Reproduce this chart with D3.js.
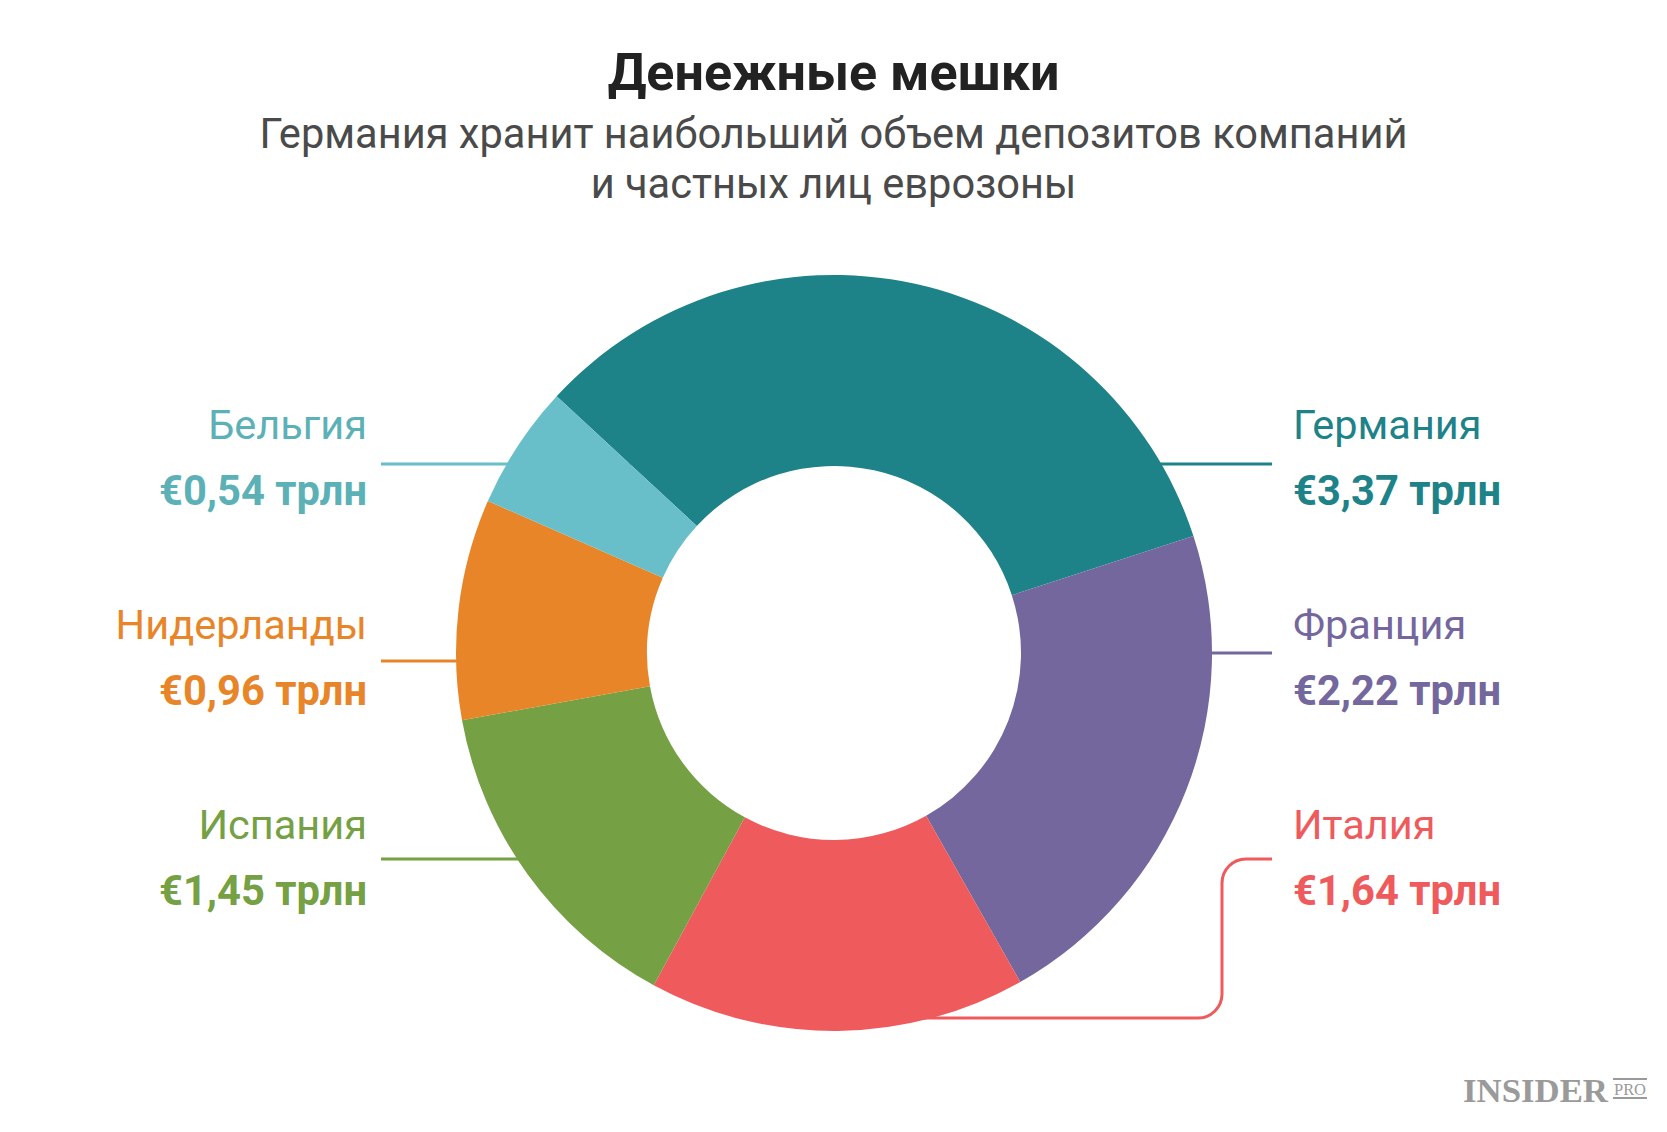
<!DOCTYPE html>
<html>
<head>
<meta charset="utf-8">
<script src="https://cdnjs.cloudflare.com/ajax/libs/d3/7.8.5/d3.min.js"></script>
<style>
  html, body { margin: 0; padding: 0; background: #fff; }
  svg { display: block; font-family: Roboto, "Noto Sans", sans-serif; }
</style>
</head>
<body>
<div id="chart"></div>
<script>
// data, clockwise from the top-left
var countries = ["Германия", "Франция", "Италия", "Испания", "Нидерланды", "Бельгия"];
var deposits = [3.37, 2.22, 1.64, 1.45, 0.96, 0.54]; // трлн евро
var colors = ["#1e8289", "#74679e", "#ef5a5c", "#75a044", "#e88528", "#69bfc9"];
var textColors = ["#1e8289", "#74679e", "#ef5a5c", "#75a044", "#e88528", "#5cb1b7"];

var title = "Денежные мешки";
var subtitle = ["Германия хранит наибольший объем депозитов компаний", "и частных лиц еврозоны"];

var W = 1667, H = 1132;
var cx = 834, cy = 653, rOuter = 378, rInner = 187;

var svg = d3.select("#chart").append("svg")
    .attr("width", W).attr("height", H);

// title
svg.append("text")
    .attr("x", W / 2).attr("y", 90)
    .attr("text-anchor", "middle")
    .attr("font-size", 52).attr("font-weight", 700)
    .attr("fill", "#222")
    .text(title);

svg.selectAll("text.sub").data(subtitle).enter()
    .append("text").attr("class", "sub")
    .attr("x", W / 2)
    .attr("y", function(d, i) { return 148 + i * 50; })
    .attr("text-anchor", "middle")
    .attr("font-size", 41.6)
    .attr("fill", "#4a4a4a")
    .text(function(d) { return d; });

var ru = d3.formatLocale({decimal: ",", thousands: " ", grouping: [3], currency: ["€", ""]});
var fmt = ru.format("$.2f");

// where each label sits: side, row, y of the leader line
var side = ["right", "right", "right", "left", "left", "left"];
var row = [0, 1, 2, 2, 1, 0];
var lineY = [464, 653, 859, 859, 661, 464];
var rowY = [439, 639, 839];

var pie = d3.pie().sort(null).value(function(d) { return d; })
    .startAngle(-47.2 * Math.PI / 180)
    .endAngle((360 - 47.2) * Math.PI / 180);
var arcs = pie(deposits);
var arc = d3.arc().innerRadius(rInner).outerRadius(rOuter);

// leader lines go under the ring
var lines = svg.append("g").attr("fill", "none").attr("stroke-width", 3);
arcs.forEach(function(a, i) {
  var p = d3.path();
  if (side[i] === "left") {
    p.moveTo(381, lineY[i]);
    p.lineTo(cx - 200, lineY[i]);
  } else if (row[i] < 2) {
    p.moveTo(1272, lineY[i]);
    p.lineTo(cx + 200, lineY[i]);
  } else {
    var vx = 1222, by = 1018, r = 24;
    p.moveTo(1272, lineY[i]);
    p.lineTo(vx + r, lineY[i]);
    p.arcTo(vx, lineY[i], vx, lineY[i] + r, r);
    p.lineTo(vx, by - r);
    p.arcTo(vx, by, vx - r, by, r);
    p.lineTo(cx, by);
  }
  lines.append("path").attr("d", p.toString()).attr("stroke", colors[i]);
});

svg.append("g").attr("transform", "translate(" + cx + "," + cy + ")")
  .selectAll("path").data(arcs).enter()
  .append("path")
    .attr("d", arc)
    .attr("fill", function(d, i) { return colors[i]; });

// labels
var labels = svg.append("g");
countries.forEach(function(c, i) {
  var left = side[i] === "left";
  var x = left ? 367 : 1293;
  var y = rowY[row[i]];
  labels.append("text")
      .attr("x", x).attr("y", y)
      .attr("text-anchor", left ? "end" : "start")
      .attr("font-size", 41.5)
      .attr("fill", textColors[i])
      .text(c);
  labels.append("text")
      .attr("x", x).attr("y", y + 66)
      .attr("text-anchor", left ? "end" : "start")
      .attr("font-size", 41.7).attr("font-weight", 700)
      .attr("fill", textColors[i])
      .text(fmt(deposits[i]) + " трлн");
});

// logo
var logo = svg.append("g").attr("fill", "#9a9a9a");
logo.append("text")
    .attr("x", 1463).attr("y", 1102)
    .attr("font-family", "'Liberation Serif', 'DejaVu Serif', serif")
    .attr("font-size", 34).attr("font-weight", 700)
    .attr("textLength", 145).attr("lengthAdjust", "spacingAndGlyphs")
    .text("INSIDER");
logo.append("text")
    .attr("x", 1614).attr("y", 1095)
    .attr("font-family", "'Liberation Serif', 'DejaVu Serif', serif")
    .attr("font-size", 17)
    .attr("textLength", 32).attr("lengthAdjust", "spacingAndGlyphs")
    .text("PRO");
logo.append("rect").attr("x", 1613).attr("y", 1078).attr("width", 34).attr("height", 2);
logo.append("rect").attr("x", 1613).attr("y", 1097).attr("width", 34).attr("height", 2);
</script>
</body>
</html>
